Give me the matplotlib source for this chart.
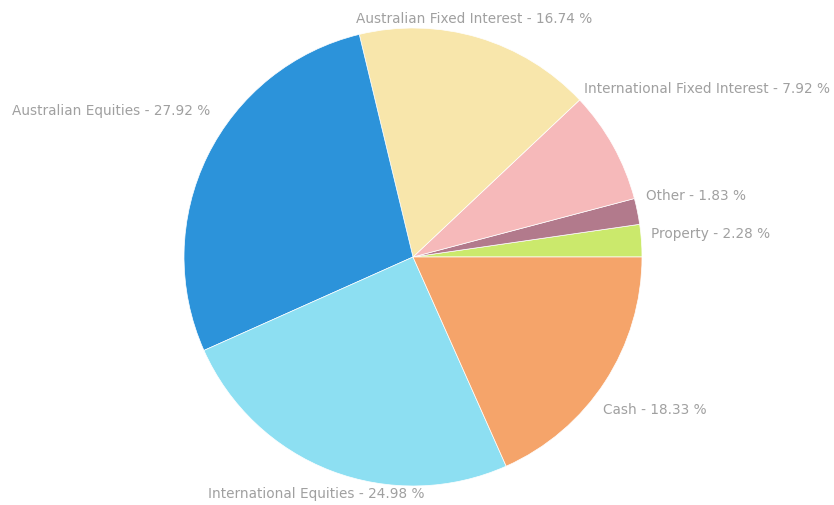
import matplotlib
matplotlib.use('Agg')
import matplotlib.pyplot as plt

# asset allocation, counter-clockwise from 3 o'clock
categories = ['Property', 'Other', 'International Fixed Interest',
              'Australian Fixed Interest', 'Australian Equities',
              'International Equities', 'Cash']
shares = [2.28, 1.83, 7.92, 16.74, 27.92, 24.98, 18.33]
colors = ['#cbe96c', '#b27a8c', '#f6b9ba', '#f8e6ab', '#2c93da',
          '#8ddff2', '#f5a46a']

# label anchor (pixel x, pixel y from top) and horizontal alignment
label_pos = [(651, 234, 'left'), (646, 196, 'left'), (584, 89, 'left'),
             (356, 19, 'left'), (210, 111, 'right'),
             (208, 494, 'left'), (603, 410, 'left')]

W, H = 834, 505
fig = plt.figure(figsize=(W / 100, H / 100), dpi=100, facecolor='w')

cx, cy, r = 413, 257, 229
ax = fig.add_axes([(cx - r) / W, (H - cy - r) / H, 2 * r / W, 2 * r / H])
ax.pie(shares, colors=colors, startangle=0, counterclock=True, radius=1,
       wedgeprops=dict(edgecolor='white', linewidth=0.5))
ax.set_xlim(-1, 1)
ax.set_ylim(-1, 1)
ax.set_aspect('equal')
ax.axis('off')

for name, val, (px, py, ha) in zip(categories, shares, label_pos):
    fig.text(px / W, 1 - py / H, f'{name} - {val:.2f} %', ha=ha, va='center',
             fontsize=9.8, color='#a0a0a0', family='DejaVu Sans')

fig.savefig('out.png', dpi=100)
